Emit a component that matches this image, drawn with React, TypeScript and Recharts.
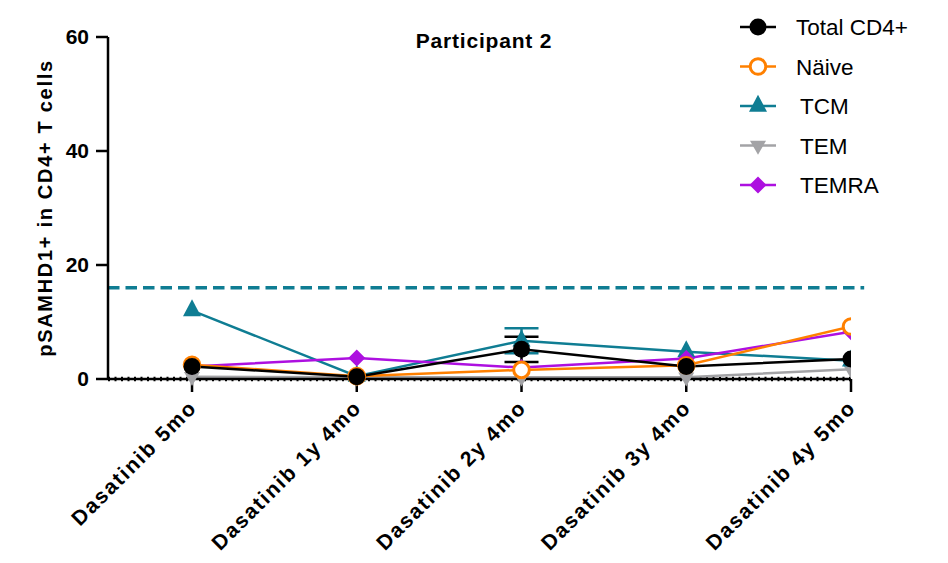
import React from 'react';
import { LineChart, Line, XAxis, YAxis, ReferenceLine, ErrorBar } from 'recharts';

const categories = ['Dasatinib 5mo', 'Dasatinib 1y 4mo', 'Dasatinib 2y 4mo', 'Dasatinib 3y 4mo', 'Dasatinib 4y 5mo'];
const totalCD4 = [2.2, 0.4, 5.2, 2.2, 3.5];
const totalCD4Err = [0, 0, 2.2, 0, 0];
const naive = [2.5, 0.5, 1.6, 2.4, 9.2];
const tcm = [12.0, 0.5, 6.7, 4.8, 3.2];
const tcmErr = [0, 0, 2.2, 0, 0];
const tem = [0.4, 0.3, 0.3, 0.3, 1.7];
const temra = [2.2, 3.7, 2.0, 3.6, 8.3];
const yTicks = [0, 20, 40, 60];
const thresholdValue = 16;
const title = 'Participant 2';
const yLabel = 'pSAMHD1+ in CD4+ T cells';

const seriesNames = ['Total CD4+', 'Näive', 'TCM', 'TEM', 'TEMRA'];

const data = categories.map((c, i) => ({
  x: i,
  cat: c,
  total: totalCD4[i],
  totalErr: totalCD4Err[i],
  naive: naive[i],
  tcm: tcm[i],
  tcmErr: tcmErr[i],
  tem: tem[i],
  temra: temra[i],
}));

const FONT = '"Liberation Sans", Arial, Helvetica, sans-serif';
const BLACK = '#000000';
const ORANGE = '#FF8000';
const TEAL = '#0F7D93';
const GRAY = '#A3A3A6';
const PURPLE = '#AD10E0';

type Shape = 'circle' | 'open' | 'up' | 'down' | 'diamond';

function Marker({ cx, cy, shape, color }: { cx: number; cy: number; shape: Shape; color: string }) {
  if (cx == null || cy == null || isNaN(cx) || isNaN(cy)) return null;
  if (shape === 'circle') return <circle cx={cx} cy={cy} r={8.5} fill={color} />;
  if (shape === 'open') return <circle cx={cx} cy={cy} r={7.8} fill="#fff" stroke={color} strokeWidth={3} />;
  if (shape === 'up') {
    const w = 18, h = 17;
    return <polygon points={`${cx},${cy - (2 * h) / 3} ${cx - w / 2},${cy + h / 3} ${cx + w / 2},${cy + h / 3}`} fill={color} />;
  }
  if (shape === 'down') {
    const w = 16, h = 14;
    return <polygon points={`${cx},${cy + (2 * h) / 3} ${cx - w / 2},${cy - h / 3} ${cx + w / 2},${cy - h / 3}`} fill={color} />;
  }
  const s = 8.5;
  return <polygon points={`${cx},${cy - s} ${cx + s},${cy} ${cx},${cy + s} ${cx - s},${cy}`} fill={color} />;
}

const makeDot = (shape: Shape, color: string) => (p: any) => (
  <Marker key={`${shape}-${p.index}`} cx={p.cx} cy={p.cy} shape={shape} color={color} />
);

const XTick = (props: any) => {
  const { x, y, payload } = props;
  return (
    <g transform={`translate(${x + 6},${y + 15})`}>
      <text
        transform="rotate(-45)"
        textAnchor="end"
        fontFamily={FONT}
        fontWeight="bold"
        fontSize={21}
        letterSpacing={1.8}
        fill="#000"
      >
        {categories[payload.value]}
      </text>
    </g>
  );
};

const legendItems: { name: string; shape: Shape; color: string }[] = [
  { name: seriesNames[0], shape: 'circle', color: BLACK },
  { name: seriesNames[1], shape: 'open', color: ORANGE },
  { name: seriesNames[2], shape: 'up', color: TEAL },
  { name: seriesNames[3], shape: 'down', color: GRAY },
  { name: seriesNames[4], shape: 'diamond', color: PURPLE },
];

const LegendBox = () => (
  <svg width={218} height={200} style={{ position: 'absolute', left: 730, top: 5 }}>
    {legendItems.map((it, i) => {
      const cy = 22 + i * 39.5;
      return (
        <g key={it.name}>
          <line x1={10} x2={46} y1={cy} y2={cy} stroke={it.color} strokeWidth={2.5} />
          <Marker cx={28} cy={cy} shape={it.shape} color={it.color} />
          <text x={i < 2 ? 66 : 70} y={cy + 8} fontFamily={FONT} fontSize={22.5} fill="#000">
            {it.name}
          </text>
        </g>
      );
    })}
  </svg>
);

export default function App() {
  return (
    <div style={{ position: 'absolute', left: 0, top: 0, width: 948, height: 563, background: '#fff' }}>
      <LineChart width={948} height={563} data={data} margin={{ top: 37, right: 97, bottom: 154, left: 0 }}>
        <XAxis
          type="number"
          dataKey="x"
          domain={[-0.51, 4]}
          ticks={[0, 1, 2, 3, 4]}
          allowDataOverflow
          interval={0}
          height={30}
          tick={<XTick />}
          tickSize={13}
          axisLine={{ stroke: '#000', strokeWidth: 2.5 }}
          tickLine={{ stroke: '#000', strokeWidth: 2.5 }}
        />
        <YAxis
          type="number"
          domain={[0, 60]}
          ticks={yTicks}
          width={108}
          tickSize={12}
          tickMargin={7}
          axisLine={{ stroke: '#000', strokeWidth: 2.5 }}
          tickLine={{ stroke: '#000', strokeWidth: 2.5 }}
          tick={{ fontFamily: FONT, fontWeight: 'bold', fontSize: 21, fill: '#000' }}
          label={{
            content: (p: any) => {
              const vb = p.viewBox;
              const cy = vb.y + vb.height / 2;
              return (
                <text
                  x={52}
                  y={cy}
                  transform={`rotate(-90, 52, ${cy})`}
                  textAnchor="middle"
                  fontFamily={FONT}
                  fontWeight="bold"
                  fontSize={20}
                  letterSpacing={1.7}
                  fill="#000"
                >
                  {yLabel}
                </text>
              );
            },
          }}
        />
        <ReferenceLine
          segment={[{ x: -0.51, y: thresholdValue }, { x: 4.08, y: thresholdValue }]}
          stroke={TEAL}
          strokeWidth={3.5}
          strokeDasharray="11.5 6"
          ifOverflow="visible"
        />
        <ReferenceLine y={0} stroke="#000" strokeWidth={4.5} strokeDasharray="2 4.5" />
        <Line dataKey="tem" name={seriesNames[3]} stroke={GRAY} strokeWidth={2.5} dot={makeDot('down', GRAY)} isAnimationActive={false} />
        <Line dataKey="tcm" name={seriesNames[2]} stroke={TEAL} strokeWidth={2.5} dot={makeDot('up', TEAL)} isAnimationActive={false}>
          <ErrorBar dataKey="tcmErr" direction="y" width={17} stroke={TEAL} strokeWidth={2.5} />
        </Line>
        <Line dataKey="temra" name={seriesNames[4]} stroke={PURPLE} strokeWidth={2.5} dot={makeDot('diamond', PURPLE)} isAnimationActive={false} />
        <Line dataKey="naive" name={seriesNames[1]} stroke={ORANGE} strokeWidth={2.5} dot={makeDot('open', ORANGE)} isAnimationActive={false} />
        <Line dataKey="total" name={seriesNames[0]} stroke={BLACK} strokeWidth={2.5} dot={makeDot('circle', BLACK)} isAnimationActive={false}>
          <ErrorBar dataKey="totalErr" direction="y" width={17} stroke={BLACK} strokeWidth={2.5} />
        </Line>
      </LineChart>
      <div
        style={{
          position: 'absolute',
          left: 384,
          width: 200,
          top: 29,
          textAlign: 'center',
          fontFamily: FONT,
          fontWeight: 'bold',
          fontSize: 21,
          letterSpacing: 0.8,
          color: '#000',
        }}
      >
        {title}
      </div>
      <LegendBox />
    </div>
  );
}
